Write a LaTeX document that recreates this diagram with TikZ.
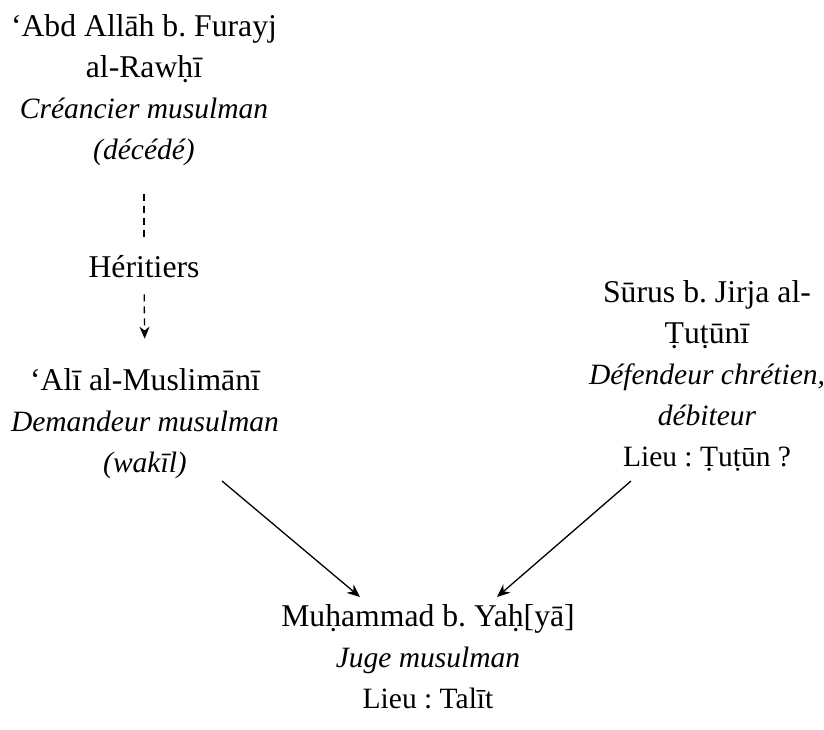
\documentclass[tikz,border=0pt]{standalone}
\usepackage{fontspec}
\setmainfont{Liberation Serif}
\usetikzlibrary{arrows.meta}
\frenchspacing
\newcommand{\bign}[1]{{\fontsize{31.7}{41}\selectfont #1}}
\begin{document}
\begin{tikzpicture}[x=1pt,y=-1pt,
  txt/.style={align=center,inner sep=0pt,font=\fontsize{29.5}{41}\selectfont},
  conn/.style={line width=1.3pt,-{Stealth[length=13pt,width=11pt]}},
  dsh/.style={line width=1.3pt,dash pattern=on 7pt off 5pt}]
\useasboundingbox (0,0) rectangle (824,729);
\node[txt] (abd) at (144,90) {\bign{‘Abd Allāh b. Furayj}\\\bign{al-Rawḥī}\\\textit{Créancier musulman}\\\textit{(décédé)}};
\node[txt] (her) at (144,267) {\bign{Héritiers}};
\node[txt] (ali) at (145,424) {\bign{‘Alī al-Muslimānī}\\\textit{Demandeur musulman}\\\textit{(wakīl)}};
\node[txt] (sur) at (707,376) {\bign{Sūrus b. Jirja al-}\\\bign{Ṭuṭūnī}\\\textit{Défendeur chrétien,}\\\textit{débiteur}\\Lieu : Ṭuṭūn ?};
\node[txt] (muh) at (428,657) {\bign{Muḥammad b. Yaḥ[yā]}\\\textit{Juge musulman}\\Lieu : Talīt};
\draw[dsh,shorten <=28pt,shorten >=18pt] (abd.south) -- (her.north);
\draw[dsh,-{Stealth[length=12pt,width=10pt]},shorten <=16pt,shorten >=30pt] (her.south) -- (ali.north);
\coordinate (a1) at (222,481);
\coordinate (a2) at (360,597);
\coordinate (b1) at (631,481);
\coordinate (b2) at (497,597);
\draw[conn] (a1) -- (a2);
\draw[conn] (b1) -- (b2);
\end{tikzpicture}
\end{document}
